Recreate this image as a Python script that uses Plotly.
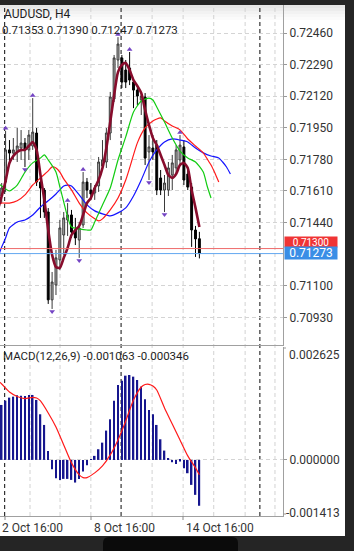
import plotly.graph_objects as go

W, H = 354, 551


def fx(p):
    return p / W


def fy(p):
    return 1 - p / H


# ---------------- data ----------------
symbol_title = "AUDUSD, H4"
ohlc_text = "0.71353 0.71390 0.71247 0.71273"
macd_title = "MACD(12,26,9) -0.001063 -0.000346"
date_labels = ["2 Oct 16:00", "8 Oct 16:00", "14 Oct 16:00"]

bar_idx = list(range(52))
opens = [0.71583, 0.71658, 0.71831, 0.71814, 0.71820, 0.71841, 0.71868, 0.71831, 0.71852, 0.71922,
         0.71658, 0.71615, 0.71497, 0.71024, 0.71104, 0.71239, 0.71373, 0.71454, 0.71481, 0.71400,
         0.71346, 0.71427, 0.71658, 0.71615, 0.71599, 0.71637, 0.71744, 0.71766, 0.71922, 0.72105,
         0.72315, 0.72326, 0.72261, 0.72272, 0.72196, 0.72153, 0.72100, 0.72116, 0.71820, 0.71841,
         0.71857, 0.71680, 0.71615, 0.71615, 0.71696, 0.71734, 0.71777, 0.71847, 0.71701, 0.71631,
         0.71400, 0.71353]
highs = [0.71653, 0.71933, 0.71884, 0.71895, 0.71949, 0.71938, 0.71895, 0.71938, 0.72110, 0.71949,
         0.71696, 0.71626, 0.71518, 0.71174, 0.71293, 0.71454, 0.71497, 0.71545, 0.71508, 0.71465,
         0.71443, 0.71712, 0.71680, 0.71653, 0.71642, 0.71793, 0.71884, 0.71949, 0.72143, 0.72342,
         0.72438, 0.72342, 0.72315, 0.72358, 0.72218, 0.72180, 0.72143, 0.72137, 0.71911, 0.71911,
         0.71884, 0.71723, 0.71696, 0.71766, 0.71804, 0.71857, 0.71911, 0.71884, 0.71734, 0.71653,
         0.71422, 0.71390]
lows = [0.71545, 0.71605, 0.71750, 0.71777, 0.71766, 0.71777, 0.71739, 0.71777, 0.71831, 0.71637,
        0.71465, 0.71465, 0.71002, 0.70975, 0.71050, 0.71185, 0.71266, 0.71368, 0.71357, 0.71319,
        0.71250, 0.71411, 0.71572, 0.71562, 0.71562, 0.71605, 0.71723, 0.71734, 0.71884, 0.72089,
        0.72272, 0.72164, 0.72164, 0.72180, 0.72056, 0.72073, 0.72019, 0.71750, 0.71669, 0.71777,
        0.71588, 0.71588, 0.71497, 0.71583, 0.71615, 0.71696, 0.71750, 0.71642, 0.71615, 0.71309,
        0.71255, 0.71247]
closes = [0.71626, 0.71831, 0.71814, 0.71831, 0.71852, 0.71868, 0.71831, 0.71911, 0.71927, 0.71658,
          0.71626, 0.71497, 0.71024, 0.71120, 0.71250, 0.71411, 0.71465, 0.71481, 0.71389, 0.71357,
          0.71411, 0.71658, 0.71615, 0.71594, 0.71626, 0.71766, 0.71777, 0.71922, 0.72116, 0.72326,
          0.72401, 0.72196, 0.72196, 0.72207, 0.72153, 0.72121, 0.72121, 0.71787, 0.71847, 0.71820,
          0.71615, 0.71615, 0.71653, 0.71734, 0.71761, 0.71831, 0.71857, 0.71669, 0.71631, 0.71400,
          0.71352, 0.71273]

up_fractals = [1, 8, 17, 21, 30, 33, 46]
down_fractals = [6, 13, 20, 38, 42]

fast_idx = list(range(-1, 52))
fast_val = [0.71508, 0.71583, 0.71664, 0.71761, 0.71798, 0.71820, 0.71831, 0.71831, 0.71852, 0.71874, 0.71831,
            0.71696, 0.71562, 0.71400, 0.71266, 0.71201, 0.71196, 0.71250, 0.71303, 0.71373, 0.71400,
            0.71422, 0.71481, 0.71545, 0.71572, 0.71626, 0.71669, 0.71734, 0.71841, 0.71981, 0.72126,
            0.72250, 0.72288, 0.72299, 0.72261, 0.72207, 0.72175, 0.72137, 0.72046, 0.71965, 0.71895,
            0.71857, 0.71804, 0.71750, 0.71696, 0.71680, 0.71701, 0.71750, 0.71761, 0.71734, 0.71615,
            0.71519, 0.71416]

lips_idx = [-1, 0, 2, 4, 6, 8, 10, 11, 12, 14, 15, 16, 17, 18, 20, 22, 23, 24, 26, 28, 30, 32, 34, 36,
            38, 39, 40, 42, 44, 46, 48, 50, 52, 53, 54]
lips_val = [0.71653, 0.71637, 0.71610, 0.71642, 0.71712, 0.71761, 0.71788, 0.71804, 0.71777, 0.71712,
            0.71632, 0.71551, 0.71470, 0.71416, 0.71406, 0.71400, 0.71400, 0.71443, 0.71535, 0.71626,
            0.71777, 0.71901, 0.72035, 0.72094, 0.72110, 0.72100, 0.72062, 0.71981, 0.71895, 0.71825,
            0.71788, 0.71766, 0.71712, 0.71637, 0.71572]

teeth_idx = [-1, 0, 2, 4, 6, 8, 10, 12, 13, 14, 15, 16, 18, 20, 22, 24, 25, 26, 28, 30, 32, 33, 35, 37,
             39, 41, 42, 44, 46, 48, 50, 52, 53, 54, 55, 56]
teeth_val = [0.71540, 0.71545, 0.71545, 0.71557, 0.71589, 0.71642, 0.71680, 0.71718, 0.71740, 0.71734,
             0.71712, 0.71675, 0.71616, 0.71545, 0.71492, 0.71460, 0.71449, 0.71460, 0.71508, 0.71572,
             0.71669, 0.71734, 0.71869, 0.71949, 0.71987, 0.72003, 0.71987, 0.71960, 0.71939, 0.71890,
             0.71852, 0.71815, 0.71783, 0.71750, 0.71707, 0.71658]

jaw_idx = [-1, 0, 1, 2, 4, 6, 8, 10, 12, 14, 16, 17, 18, 20, 22, 24, 26, 28, 30, 32, 34, 36, 38, 40,
           42, 44, 46, 48, 50, 52, 54, 56, 57, 58, 59]
jaw_val = [0.71250, 0.71309, 0.71357, 0.71411, 0.71443, 0.71454, 0.71481, 0.71524, 0.71557, 0.71594,
           0.71637, 0.71642, 0.71637, 0.71589, 0.71535, 0.71503, 0.71487, 0.71476, 0.71492, 0.71519,
           0.71583, 0.71669, 0.71766, 0.71831, 0.71874, 0.71890, 0.71884, 0.71874, 0.71841, 0.71815,
           0.71798, 0.71788, 0.71766, 0.71739, 0.71701]

macd_hist = [0.001273, 0.001373, 0.001443, 0.001466, 0.001497, 0.001489, 0.001481, 0.001505, 0.001505, 0.001389,
             0.001057, 0.000810, 0.000208, -0.000216, -0.000424, -0.000463, -0.000440, -0.000440, -0.000463, -0.000525,
             -0.000440, -0.000270, -0.000123, 0.000010, 0.000093, 0.000247, 0.000400, 0.000679, 0.000941, 0.001373,
             0.001736, 0.001836, 0.001952, 0.001968, 0.001929, 0.001852, 0.001698, 0.001404, 0.001157, 0.001057,
             0.000810, 0.000478, 0.000216, 0.000039, -0.000054, -0.000093, -0.000039, -0.000193, -0.000309, -0.000579,
             -0.000810, -0.001063]

sig_idx = [-1, 0, 2, 4, 6, 8, 9, 10, 12, 14, 16, 18, 20, 21, 22, 24, 26, 28, 30, 32, 34, 36, 37, 38, 39,
           40, 42, 44, 46, 48, 50, 51]
sig_val = [0.001829, 0.001759, 0.001574, 0.001470, 0.001419, 0.001451, 0.001435, 0.001366, 0.001088, 0.000764,
           0.000347, -0.000069, -0.000347, -0.000410, -0.000410, -0.000301, -0.000139, 0.000116, 0.000463, 0.000903,
           0.001389, 0.001690, 0.001748, 0.001752, 0.001713, 0.001620, 0.001204, 0.000833, 0.000463, 0.000093,
           -0.000185, -0.000346]

bid_price = 0.71273
ask_price = 0.71300
price_ticks = [0.72460, 0.72290, 0.72120, 0.71950, 0.71780, 0.71610, 0.71440, 0.71100, 0.70930]
macd_max_label = "0.002625"
macd_min_label = "-0.001413"

# ---------------- layout constants ----------------
X_RANGE = [-0.44, 72.57]
PRICE_RANGE = [0.70781, 0.72611]
MACD_RANGE = [-0.0013, 0.002616]
light_vlines = [7.3, 15.05, 23.0, 38.8, 46.8, 54.7, 62.8, 70.5]
dark_vlines = [0.75, 30.8, 66.6]
FONT = "Roboto"

fig = go.Figure()

fig.add_trace(go.Candlestick(
    x=bar_idx, open=opens, high=highs, low=lows, close=closes,
    increasing=dict(line=dict(color="#3a3a3a", width=1), fillcolor="#b4b4b4"),
    decreasing=dict(line=dict(color="#000000", width=1), fillcolor="#000000"),
    whiskerwidth=0, xaxis="x", yaxis="y", showlegend=False, hoverinfo="skip"))

for xs, ys, col, w in [(jaw_idx, jaw_val, "#1414ff", 1.2),
                       (teeth_idx, teeth_val, "#ff1a1a", 1.2),
                       (lips_idx, lips_val, "#12cc12", 1.2),
                       (fast_idx, fast_val, "#870c2c", 2.6)]:
    fig.add_trace(go.Scatter(x=xs, y=ys, mode="lines", line=dict(color=col, width=w, shape="spline", smoothing=0.6),
                             xaxis="x", yaxis="y", showlegend=False, hoverinfo="skip"))

frac_off = 0.00014
fig.add_trace(go.Scatter(x=up_fractals, y=[highs[i] + frac_off for i in up_fractals], mode="markers",
                         marker=dict(symbol="triangle-up", size=5, color="#7444c4"),
                         xaxis="x", yaxis="y", showlegend=False, hoverinfo="skip"))
fig.add_trace(go.Scatter(x=down_fractals, y=[lows[i] - frac_off for i in down_fractals], mode="markers",
                         marker=dict(symbol="triangle-down", size=5, color="#7444c4"),
                         xaxis="x", yaxis="y", showlegend=False, hoverinfo="skip"))

fig.add_trace(go.Bar(x=bar_idx, y=macd_hist, width=0.4, marker=dict(color="#16168e", line=dict(width=0)),
                     xaxis="x2", yaxis="y2", showlegend=False, hoverinfo="skip"))
fig.add_trace(go.Scatter(x=sig_idx, y=sig_val, mode="lines",
                         line=dict(color="#ff1a1a", width=1.2, shape="spline", smoothing=0.6),
                         xaxis="x2", yaxis="y2", showlegend=False, hoverinfo="skip"))

shapes = []
# white chart canvas and dark surroundings
shapes.append(dict(type="rect", xref="paper", yref="paper", x0=0, x1=fx(345), y0=fy(536), y1=fy(5),
                   fillcolor="white", line=dict(width=0), layer="below"))
for k, c in enumerate(["#e6e6e6", "#ececec", "#f2f2f2", "#f7f7f7", "#fbfbfb"]):
    shapes.append(dict(type="rect", xref="paper", yref="paper", x0=0, x1=fx(345),
                       y0=fy(5 + 3 * (k + 1)), y1=fy(5 + 3 * k), fillcolor=c, line=dict(width=0), layer="below"))
shapes.append(dict(type="path", xref="paper", yref="paper",
                   path=f"M {fx(103)},{fy(551)} L {fx(103)},{fy(543)} Q {fx(103)},{fy(537)} {fx(109)},{fy(537)} "
                        f"L {fx(232)},{fy(537)} Q {fx(238)},{fy(537)} {fx(238)},{fy(543)} L {fx(238)},{fy(551)} Z",
                   fillcolor="#0b0b0b", line=dict(width=0), layer="below"))

for v in light_vlines:
    shapes.append(dict(type="line", xref="x", yref="paper", x0=v, x1=v, y0=fy(516), y1=fy(5),
                       line=dict(color="#d2d2d2", width=1, dash="4px,3px"), layer="below"))
for v in dark_vlines:
    shapes.append(dict(type="line", xref="x", yref="paper", x0=v, x1=v, y0=fy(516), y1=fy(5),
                       line=dict(color="#333333", width=1.2, dash="4px,3px"), layer="below"))

shapes.append(dict(type="line", xref="x domain", yref="y", x0=0, x1=1, y0=ask_price, y1=ask_price,
                   line=dict(color="#ee6a6a", width=1)))
shapes.append(dict(type="line", xref="x domain", yref="y", x0=0, x1=1, y0=bid_price, y1=bid_price,
                   line=dict(color="#62a8f0", width=1)))
# ticks for the date labels
for px in [5, 91, 183]:
    shapes.append(dict(type="line", xref="paper", yref="paper", x0=fx(px), x1=fx(px), y0=fy(520), y1=fy(516),
                       line=dict(color="#888", width=1)))
# ticks for the MACD edge labels
for py in [348, 514]:
    shapes.append(dict(type="line", xref="paper", yref="paper", x0=fx(283), x1=fx(286), y0=fy(py), y1=fy(py),
                       line=dict(color="#999", width=1)))

ann = []
tf = dict(family=FONT, size=12, color="#1e1e1e")
ann.append(dict(text=symbol_title, x=fx(2), y=fy(14), xref="paper", yref="paper", xanchor="left",
                yanchor="middle", showarrow=False, font=tf))
ann.append(dict(text=ohlc_text, x=fx(0), y=fy(30), xref="paper", yref="paper", xanchor="left",
                yanchor="middle", showarrow=False, font=dict(family=FONT, size=11.5, color="#1e1e1e")))
ann.append(dict(text=macd_title, x=fx(1), y=fy(356), xref="paper", yref="paper", xanchor="left",
                yanchor="middle", showarrow=False, font=dict(family=FONT, size=11.5, color="#1e1e1e")))
for txt, px in zip(date_labels, [0, 92, 184]):
    ann.append(dict(text=txt, x=fx(px), y=fy(528), xref="paper", yref="paper", xanchor="left",
                    yanchor="middle", showarrow=False, font=dict(family=FONT, size=12, color="#333")))
ann.append(dict(text=macd_max_label, x=fx(287), y=fy(355), xref="paper", yref="paper", xanchor="left",
                yanchor="middle", showarrow=False, font=dict(family=FONT, size=12, color="#333")))
ann.append(dict(text=macd_min_label, x=fx(284), y=fy(513), xref="paper", yref="paper", xanchor="left",
                yanchor="middle", showarrow=False, font=dict(family=FONT, size=12, color="#333")))
ann.append(dict(text=f"{ask_price:.5f}", x=fx(284), y=fy(241.5), xref="paper", yref="paper", xanchor="left",
                yanchor="middle", showarrow=False, bgcolor="#f03434", width=52, height=10, borderpad=0,
                font=dict(family=FONT, size=10, color="white")))
ann.append(dict(text=f"{bid_price:.5f}", x=fx(284), y=fy(253), xref="paper", yref="paper", xanchor="left",
                yanchor="middle", showarrow=False, bgcolor="#3a8ee6", width=52, height=12, borderpad=0,
                font=dict(family=FONT, size=12, color="white")))

axis_font = dict(family=FONT, size=12, color="#333")
fig.update_layout(
    width=W, height=H, margin=dict(l=0, r=0, t=0, b=0),
    paper_bgcolor="#252525", plot_bgcolor="rgba(0,0,0,0)",
    showlegend=False,
    shapes=shapes, annotations=ann,
    xaxis=dict(domain=[0, fx(283)], range=X_RANGE, anchor="y", showticklabels=False, ticks="",
               showgrid=False, zeroline=False, showline=True, linecolor="#a0a0a0", linewidth=1,
               rangeslider=dict(visible=False), fixedrange=True),
    yaxis=dict(domain=[fy(345), fy(5)], range=PRICE_RANGE, anchor="x", side="right",
               tickvals=price_ticks, ticktext=[f"{v:.5f}" for v in price_ticks],
               showgrid=True, gridcolor="#d4d4d4", griddash="4px,3px", gridwidth=1,
               showline=True, linecolor="#a0a0a0", linewidth=1, ticks="outside", ticklen=3,
               tickcolor="#999", tickfont=axis_font, zeroline=False, fixedrange=True),
    xaxis2=dict(domain=[0, fx(283)], range=X_RANGE, anchor="y2", showticklabels=False, ticks="",
                showgrid=False, zeroline=False, showline=True, linecolor="#a0a0a0", linewidth=1,
                fixedrange=True),
    yaxis2=dict(domain=[fy(516), fy(347)], range=MACD_RANGE, anchor="x2", side="right",
                tickvals=[0], ticktext=["0.000000"],
                showgrid=True, gridcolor="#d4d4d4", griddash="4px,3px", gridwidth=1,
                showline=True, linecolor="#a0a0a0", linewidth=1, ticks="outside", ticklen=3,
                tickcolor="#999", tickfont=axis_font, zeroline=False, fixedrange=True),
)

fig.write_html("out.html")
